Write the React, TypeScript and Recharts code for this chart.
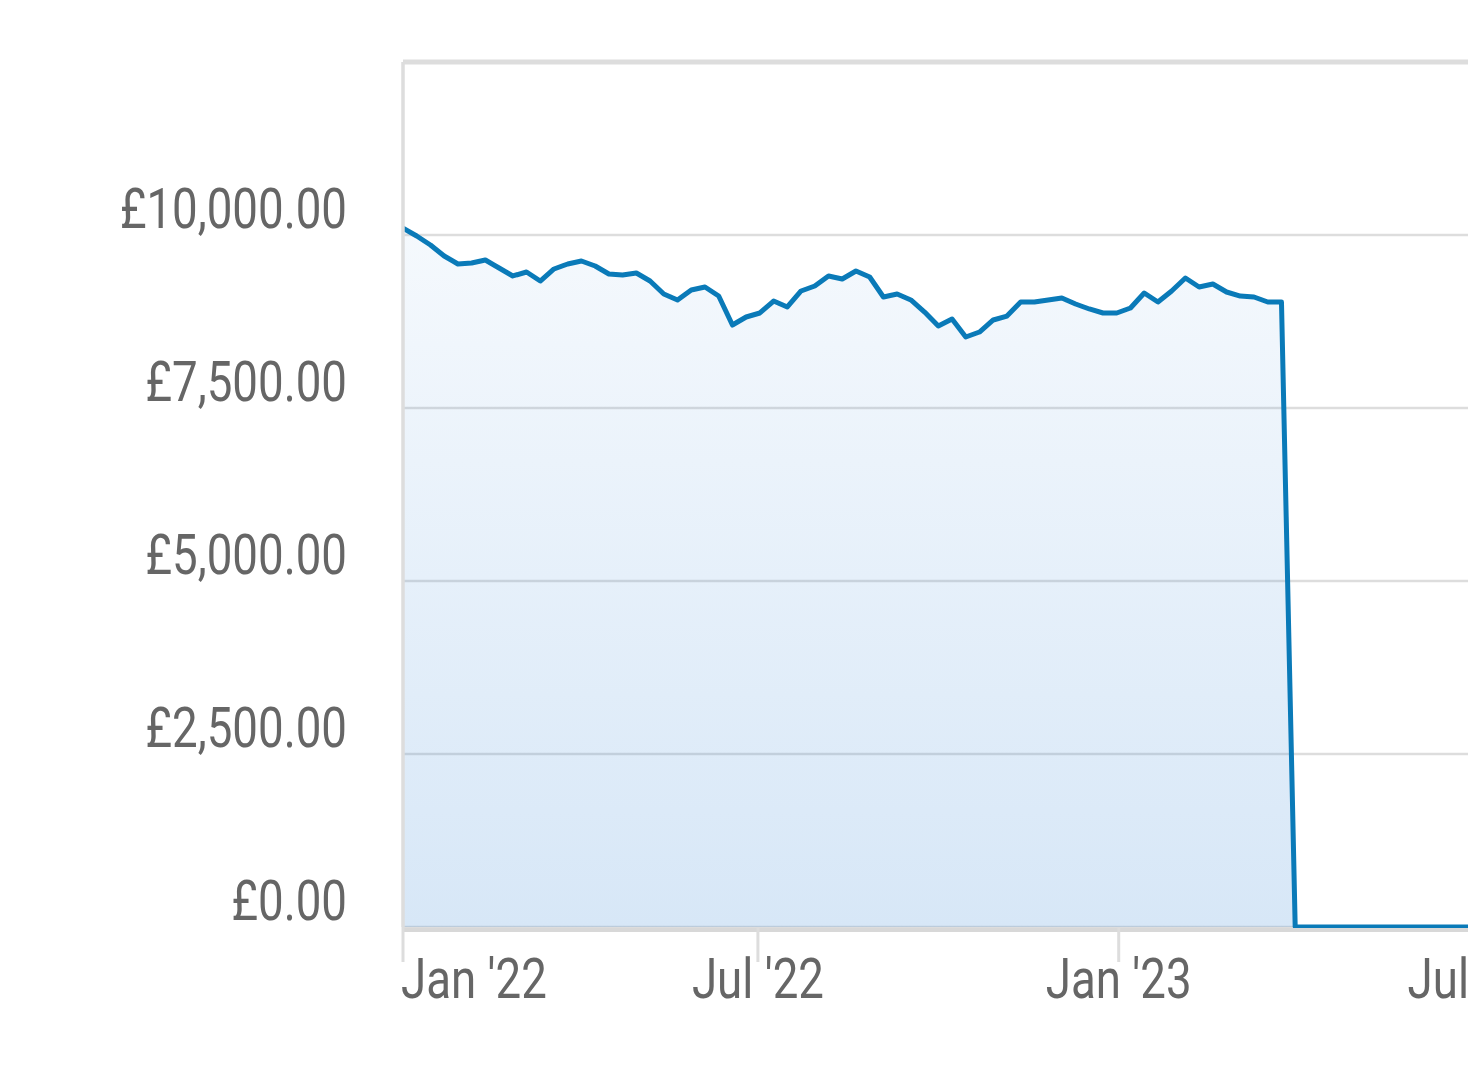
import React from 'react'
import {
  AreaChart, Area, XAxis, YAxis, CartesianGrid, ReferenceLine,
} from 'recharts'

const DAY = 86400000
const START = Date.UTC(2022, 0, 1)
const END = Date.UTC(2023, 7, 12)

// weekly portfolio value, first point on 1 Jan 2022
const weeklyValues = [
  10100, 9986, 9855, 9697, 9581, 9595, 9639, 9523, 9408, 9465,
  9335, 9509, 9581, 9624, 9552, 9436, 9422, 9451, 9335, 9147,
  9061, 9205, 9249, 9118, 8699, 8815, 8873, 9046, 8960, 9191,
  9263, 9408, 9364, 9480, 9393, 9104, 9147, 9061, 8887, 8685,
  8786, 8526, 8598, 8772, 8829, 9032, 9032, 9061, 9090, 9003,
  8931, 8873, 8873, 8945, 9162, 9032, 9191, 9379, 9249, 9292,
  9176, 9118, 9104, 9032, 9032,
  0, 0, 0, 0, 0, 0, 0, 0, 0, 0,
  0, 0, 0, 0, 0, 0, 0, 0, 0, 0,
]

const xTicks = [
  Date.UTC(2022, 0, 1),
  Date.UTC(2022, 6, 1),
  Date.UTC(2023, 0, 1),
  Date.UTC(2023, 6, 1),
]
const xTickLabels = ["Jan '22", "Jul '22", "Jan '23", "Jul '23"]

const yTicks = [0, 2500, 5000, 7500, 10000]
const Y_MAX = 12500

const data = weeklyValues.map((value, i) => ({ t: START + i * 7 * DAY, value }))

// no condensed font installed, so Roboto gets squeezed horizontally
const FONT = 'Roboto, sans-serif'
const SQUEEZE = 0.83
const LABEL = '#666666'
const GRID = '#dddddd'

const fmt = (v: number) =>
  '£' + v.toLocaleString('en-GB', { minimumFractionDigits: 2, maximumFractionDigits: 2 })

function YTick(props: any) {
  const { x, y, payload } = props
  return (
    <text
      transform={`translate(${x},${y - 7}) scale(${SQUEEZE},1)`}
      textAnchor="end"
      fill={LABEL}
      fontSize={55}
      fontFamily={FONT}
    >
      {fmt(payload.value)}
    </text>
  )
}

function XTick(props: any) {
  const { x, y, payload, index } = props
  const i = xTicks.indexOf(payload.value)
  const first = index === 0
  return (
    <text
      transform={`translate(${first ? x - 2 : x},${y + 36}) scale(${SQUEEZE},1)`}
      textAnchor={first ? 'start' : 'middle'}
      fill={LABEL}
      fontSize={55}
      fontFamily={FONT}
    >
      {xTickLabels[i]}
    </text>
  )
}

export default function App() {
  return (
    <div
      style={{
        position: 'fixed', left: 8, top: 8,
        width: 1460, height: 1080, overflow: 'hidden', background: '#fff',
      }}
    >
      <AreaChart
        width={1548}
        height={1072}
        data={data}
        margin={{ top: 54, right: 0, left: 0, bottom: 0 }}
      >
        <defs>
          <linearGradient id="fillGrad" x1="0" y1="0" x2="0" y2="1">
            <stop offset="0%" stopColor="#3787d7" stopOpacity={0.05} />
            <stop offset="100%" stopColor="#3787d7" stopOpacity={0.2} />
          </linearGradient>
        </defs>
        <CartesianGrid vertical={false} stroke={GRID} strokeWidth={2.5} />
        <XAxis
          dataKey="t"
          type="number"
          scale="time"
          domain={[START, END]}
          ticks={xTicks}
          allowDataOverflow
          height={153}
          tickSize={35}
          tickMargin={0}
          tickLine={{ stroke: GRID, strokeWidth: 3 }}
          axisLine={{ stroke: '#d8d8d8', strokeWidth: 4, transform: 'translate(0,3)' }}
          tick={<XTick />}
        />
        <YAxis
          type="number"
          domain={[0, Y_MAX]}
          ticks={yTicks}
          width={395}
          tickSize={0}
          tickMargin={56}
          tickLine={false}
          axisLine={false}
          tick={<YTick />}
        />
        <ReferenceLine y={Y_MAX} stroke={GRID} strokeWidth={5} />
        <ReferenceLine x={START} stroke={GRID} strokeWidth={3.5} />
        <Area
          type="linear"
          dataKey="value"
          stroke="#0a7ab8"
          strokeWidth={5}
          strokeLinejoin="round"
          fill="url(#fillGrad)"
          fillOpacity={1}
          dot={false}
          activeDot={false}
          isAnimationActive={false}
        />
      </AreaChart>
    </div>
  )
}
